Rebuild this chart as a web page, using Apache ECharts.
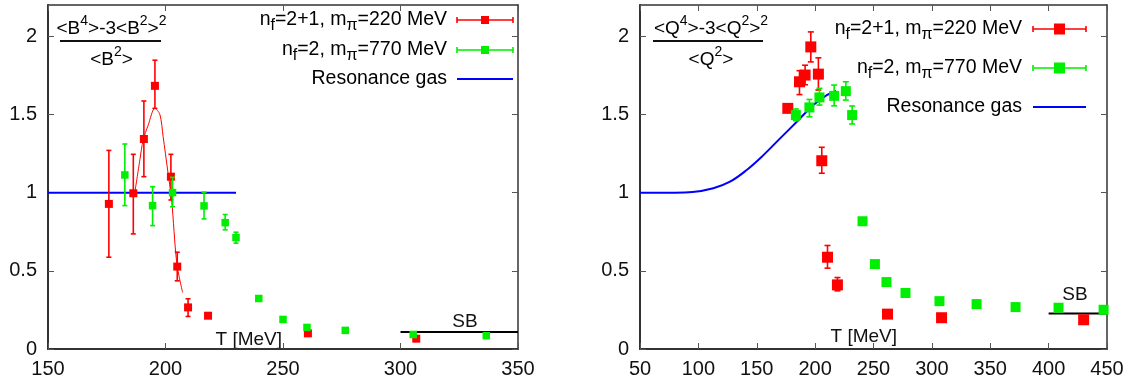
<!DOCTYPE html>
<html><head><meta charset="utf-8">
<script src="https://cdn.jsdelivr.net/npm/echarts@6/dist/echarts.min.js"></script>
<style>html,body{margin:0;padding:0;background:#fff}#c{width:1130px;height:383px}</style>
</head><body><div id="c"></div>
<script>
// ---- tick labels ----
const xTicksB = [150, 200, 250, 300, 350];
const xTicksQ = [50, 100, 150, 200, 250, 300, 350, 400, 450];
const yTicks = [0, 0.5, 1, 1.5, 2];

// ---- left panel (baryon number) ----
const bRedT  = [175.9, 186.3, 190.8, 195.5, 202.3, 205.0, 209.6, 218.1, 260.6, 306.7];
const bRedY  = [0.928, 0.996, 1.343, 1.683, 1.102, 0.527, 0.266, 0.213, 0.100, 0.066];
const bRedHi = [1.270, 1.245, 1.586, 1.847, 1.245, 0.619, 0.321, 0.228, null, null];
const bRedLo = [0.587, 0.736, 1.102, 1.539, 0.953, 0.436, 0.208, 0.198, null, null];

const bGreenT  = [182.7, 194.5, 203.0, 216.4, 225.4, 230.0, 239.7, 250.0, 260.2, 276.5, 305.4, 336.5];
const bGreenY  = [1.113, 0.917, 1.000, 0.915, 0.808, 0.713, 0.323, 0.189, 0.138, 0.119, 0.093, 0.085];
const bGreenHi = [1.311, 1.038, 1.098, 1.003, 0.860, 0.747, null, null, null, null, null, null];
const bGreenLo = [0.917, 0.789, 0.910, 0.832, 0.762, 0.677, null, null, null, null, null, null];

const bFitT = [187.0, 189.1, 190.5, 192.6, 195.5, 197.6, 199.0, 200.9, 202.6, 204.8, 207.3];
const bFitY = [1.006, 1.210, 1.337, 1.430, 1.540, 1.500, 1.358, 1.145, 0.953, 0.549, 0.361];

const bHrgT = [150, 230];
const bHrgY = [1, 1];
const bSbT = [300, 350];
const bSbY = [0.109, 0.109];

// ---- right panel (electric charge) ----
const qRedT  = [176.6, 186.6, 191.4, 196.3, 202.8, 205.7, 210.6, 219.1, 262.0, 308.3, 430.0];
const qRedY  = [1.539, 1.709, 1.752, 1.932, 1.758, 1.204, 0.587, 0.410, 0.223, 0.200, 0.187];
const qRedHi = [1.565, 1.780, 1.815, 2.028, 1.862, 1.290, 0.662, 0.457, null, null, null];
const qRedLo = [1.515, 1.627, 1.690, 1.836, 1.656, 1.124, 0.517, 0.372, null, null, null];

const qGreenT  = [183.5, 195.1, 203.7, 216.3, 226.3, 231.7, 240.6, 251.2, 261.1, 277.4, 306.5, 338.3, 371.7, 408.5, 447.1];
const qGreenY  = [1.496, 1.545, 1.609, 1.619, 1.649, 1.496, 0.817, 0.543, 0.428, 0.358, 0.306, 0.287, 0.268, 0.264, 0.251];
const qGreenHi = [1.535, 1.596, 1.667, 1.688, 1.709, 1.554, null, null, null, null, null, null, null, null, null];
const qGreenLo = [1.460, 1.485, 1.560, 1.555, 1.592, 1.439, null, null, null, null, null, null, null, null, null];

const qHrgT = [50, 80, 95, 112.8, 127.1, 141.4, 155.7, 170, 184.3, 198.5, 210, 218];
const qHrgY = [1.0, 1.0, 1.004, 1.028, 1.07, 1.145, 1.24, 1.347, 1.453, 1.56, 1.624, 1.65];
const qSbT = [400, 450];
const qSbY = [0.227, 0.227];

const legendLabels = ['n_f=2+1, m_π=220 MeV', 'n_f=2, m_π=770 MeV', 'Resonance gas'];

// ---- helpers ----
const FONT = "'Liberation Sans', Arial, Helvetica, sans-serif";
const RED = '#ff0000', GREEN = '#00ee00', BLUE = '#0000ff';
const zip = (a, b) => a.map((v, i) => [v, b[i]]);
const errData = (t, lo, hi) => t.map((v, i) => [v, lo[i], hi[i]]).filter(d => d[1] != null);

function errRender(cap, color) {
  return function (params, api) {
    const x = api.value(0), lo = api.value(1), hi = api.value(2);
    const p1 = api.coord([x, lo]), p2 = api.coord([x, hi]);
    const style = { stroke: color, lineWidth: 1.6 };
    return { type: 'group', children: [
      { type: 'line', shape: { x1: p1[0], y1: p1[1], x2: p2[0], y2: p2[1] }, style },
      { type: 'line', shape: { x1: p1[0] - cap, y1: p1[1], x2: p1[0] + cap, y2: p1[1] }, style },
      { type: 'line', shape: { x1: p2[0] - cap, y1: p2[1], x2: p2[0] + cap, y2: p2[1] }, style }
    ]};
  };
}

function xAx(grid, min, max, ticks, top) {
  return {
    type: 'value', gridIndex: grid, position: top ? 'top' : 'bottom', min, max, interval: 50,
    axisLine: { show: true, onZero: false, lineStyle: { color: '#333', width: top ? 1.5 : 2 } },
    axisTick: { show: true, inside: true, length: 6, customValues: ticks, lineStyle: { color: '#555', width: 1 } },
    axisLabel: { show: !top, customValues: ticks, margin: 10, color: '#111', fontSize: 20, fontFamily: FONT },
    splitLine: { show: false }
  };
}
function yAx(grid, right) {
  return {
    type: 'value', gridIndex: grid, position: right ? 'right' : 'left', min: 0, max: 2.2, interval: 0.5,
    axisLine: { show: true, onZero: false, lineStyle: { color: '#333', width: right ? 1.5 : 2 } },
    axisTick: { show: true, inside: true, length: 6, customValues: yTicks, lineStyle: { color: '#555', width: 1 } },
    axisLabel: { show: !right, customValues: yTicks, margin: 11, color: '#111', fontSize: 20, fontFamily: FONT },
    splitLine: { show: false }
  };
}

function legendText(s) {
  // "n_f" / "m_π" -> subscript tokens
  return '{n|' + s.replace(/_(.)/g, (m, c) => '}{s|' + c + '}{n|') + '}';
}
const legendRich = {
  n: { fontSize: 19.5, fontFamily: FONT, color: '#111', lineHeight: 28, verticalAlign: 'middle' },
  s: { fontSize: 16, fontFamily: FONT, color: '#111', lineHeight: 12, verticalAlign: 'bottom' }
};
const fracRich = {
  n: { fontSize: 19, fontFamily: FONT, color: '#111', lineHeight: 24, verticalAlign: 'bottom' },
  p: { fontSize: 14, fontFamily: FONT, color: '#111', lineHeight: 24, verticalAlign: 'top' }
};

function legendGraphics(xText, x1, x2, rows, msize, cap) {
  const g = [];
  const colors = [RED, GREEN, BLUE];
  rows.forEach((y, i) => {
    g.push({ type: 'text', x: xText, y: y, style: {
      text: legendText(legendLabels[i]), rich: legendRich, align: 'right', verticalAlign: 'middle' } });
    g.push({ type: 'line', shape: { x1, y1: y, x2, y2: y }, style: { stroke: colors[i], lineWidth: i === 2 ? 2 : 1.6 } });
    if (i < 2) {
      g.push({ type: 'line', shape: { x1, y1: y - cap, x2: x1, y2: y + cap }, style: { stroke: colors[i], lineWidth: 1.6 } });
      g.push({ type: 'line', shape: { x1: x2, y1: y - cap, x2: x2, y2: y + cap }, style: { stroke: colors[i], lineWidth: 1.6 } });
      const xm = (x1 + x2) / 2;
      g.push({ type: 'rect', shape: { x: xm - msize / 2, y: y - msize / 2, width: msize, height: msize }, style: { fill: colors[i] } });
    }
  });
  return g;
}

function fraction(cx, lx1, lx2, ly, num, den) {
  return [
    { type: 'text', x: cx, y: ly - 3, style: { text: num, rich: fracRich, align: 'center', verticalAlign: 'bottom' } },
    { type: 'line', shape: { x1: lx1, y1: ly, x2: lx2, y2: ly }, style: { stroke: '#111', lineWidth: 2 } },
    { type: 'text', x: cx, y: ly + 4, style: { text: den, rich: fracRich, align: 'center', verticalAlign: 'top' } }
  ];
}
function plain(x, y, s, align) {
  return { type: 'text', x, y, style: { text: s, fontSize: 19, fontFamily: FONT, fill: '#111', align: align || 'left', verticalAlign: 'middle' } };
}

const graphics = [].concat(
  legendGraphics(447, 457, 513, [20, 50, 79], 8, 3),
  legendGraphics(1022, 1033, 1086, [29, 68, 107], 11, 3),
  fraction(111.5, 60, 161, 41,
    '{n|<B}{p|4}{n|>-3<B}{p|2}{n|>}{p|2}', '{n|<B}{p|2}{n|>}'),
  fraction(711, 653, 763, 41,
    '{n|<Q}{p|4}{n|>-3<Q}{p|2}{n|>}{p|2}', '{n|<Q}{p|2}{n|>}'),
  [plain(282, 340, 'T [MeV]', 'right'), plain(897, 337, 'T [MeV]', 'right'),
   plain(465, 322, 'SB', 'center'), plain(1075, 295, 'SB', 'center')]
);

const option = {
  animation: false,
  backgroundColor: '#fff',
  grid: [
    { left: 48, right: 612, top: 5, bottom: 34 },
    { left: 640, right: 23, top: 5, bottom: 34 }
  ],
  xAxis: [xAx(0, 150, 350, xTicksB, false), xAx(0, 150, 350, xTicksB, true),
          xAx(1, 50, 450, xTicksQ, false), xAx(1, 50, 450, xTicksQ, true)],
  yAxis: [yAx(0, false), yAx(0, true), yAx(1, false), yAx(1, true)],
  graphic: graphics,
  series: [
    // left panel
    { type: 'line', xAxisIndex: 0, yAxisIndex: 0, data: zip(bHrgT, bHrgY), showSymbol: false, lineStyle: { color: BLUE, width: 2 }, z: 1 },
    { type: 'line', xAxisIndex: 0, yAxisIndex: 0, data: zip(bSbT, bSbY), showSymbol: false, lineStyle: { color: '#000', width: 2 }, z: 1 },
    { type: 'custom', xAxisIndex: 0, yAxisIndex: 0, data: errData(bRedT, bRedLo, bRedHi), renderItem: errRender(2.5, RED), z: 2 },
    { type: 'scatter', xAxisIndex: 0, yAxisIndex: 0, data: zip(bRedT, bRedY), symbol: 'rect', symbolSize: 8, itemStyle: { color: RED, opacity: 1 }, z: 3 },
    { type: 'line', xAxisIndex: 0, yAxisIndex: 0, data: zip(bFitT, bFitY), showSymbol: false, smooth: 0.3, lineStyle: { color: RED, width: 1 }, z: 3 },
    { type: 'custom', xAxisIndex: 0, yAxisIndex: 0, data: errData(bGreenT, bGreenLo, bGreenHi), renderItem: errRender(2.5, GREEN), z: 4 },
    { type: 'scatter', xAxisIndex: 0, yAxisIndex: 0, data: zip(bGreenT, bGreenY), symbol: 'rect', symbolSize: 7.5, itemStyle: { color: GREEN, opacity: 1 }, z: 5 },
    // right panel
    { type: 'line', xAxisIndex: 2, yAxisIndex: 2, data: zip(qHrgT, qHrgY), showSymbol: false, smooth: 0.4, lineStyle: { color: BLUE, width: 2 }, z: 1 },
    { type: 'line', xAxisIndex: 2, yAxisIndex: 2, data: zip(qSbT, qSbY), showSymbol: false, lineStyle: { color: '#000', width: 2 }, z: 1 },
    { type: 'custom', xAxisIndex: 2, yAxisIndex: 2, data: errData(qRedT, qRedLo, qRedHi), renderItem: errRender(3, RED), z: 2 },
    { type: 'scatter', xAxisIndex: 2, yAxisIndex: 2, data: zip(qRedT, qRedY), symbol: 'rect', symbolSize: 11, itemStyle: { color: RED, opacity: 1 }, z: 3 },
    { type: 'custom', xAxisIndex: 2, yAxisIndex: 2, data: errData(qGreenT, qGreenLo, qGreenHi), renderItem: errRender(3, GREEN), z: 4 },
    { type: 'scatter', xAxisIndex: 2, yAxisIndex: 2, data: zip(qGreenT, qGreenY), symbol: 'rect', symbolSize: 10, itemStyle: { color: GREEN, opacity: 1 }, z: 5 }
  ]
};
const chart = echarts.init(document.getElementById('c'), null, { renderer: 'canvas' });
chart.setOption(option);
</script></body></html>
